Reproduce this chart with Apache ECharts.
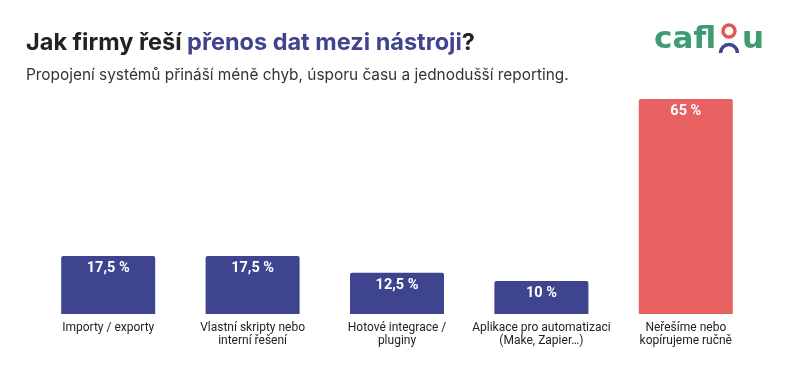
<!DOCTYPE html>
<html><head><meta charset="utf-8">
<script src="https://cdn.jsdelivr.net/npm/echarts@6/dist/echarts.min.js"></script>
<style>html,body{margin:0;padding:0;background:#fff}#c{width:800px;height:365px}</style>
</head><body><div id="c"></div>
<script>
const categories = ['Importy / exporty', 'Vlastní skripty nebo\ninterní řešení', 'Hotové integrace /\npluginy', 'Aplikace pro automatizaci\n(Make, Zapier…)', 'Neřešíme nebo\nkopírujeme ručně'];
const values = [17.5, 17.5, 12.5, 10, 65];
const barColors = ['#3f448e', '#3f448e', '#3f448e', '#3f448e', '#e86262'];

const chart = echarts.init(document.getElementById('c'), null, {renderer: 'canvas'});
chart.setOption({
  animation: false,
  title: {
    left: 21, top: 26,
    text: '{a|Jak firmy řeší }{b|přenos dat mezi nástroji}{a|?}',
    textStyle: {
      rich: {
        a: {fontFamily: 'Inter', fontSize: 23.5, fontWeight: 'bold', color: '#222222'},
        b: {fontFamily: 'Inter', fontSize: 23.5, fontWeight: 'bold', color: '#3f448e'}
      }
    },
    subtext: 'Propojení systémů přináší méně chyb, úsporu času a jednodušší reporting.',
    subtextStyle: {fontFamily: 'Inter', fontSize: 15.4, color: '#333333'},
    itemGap: 13
  },
  grid: {left: 36, right: 42, top: 99, bottom: 51},
  xAxis: {
    type: 'category', data: categories,
    axisLine: {show: false}, axisTick: {show: false},
    axisLabel: {fontFamily: 'Roboto', fontSize: 12, color: '#222', lineHeight: 13, margin: 7, interval: 0}
  },
  yAxis: {type: 'value', min: 0, max: 65, show: false, splitLine: {show: false}},
  series: [{
    type: 'bar', barWidth: 94,
    data: values.map((v, i) => ({value: v, itemStyle: {color: barColors[i]}})),
    itemStyle: {borderRadius: [2, 2, 0, 0]},
    label: {
      show: true, position: 'insideTop', distance: 5,
      fontFamily: 'Roboto', fontWeight: 'bold', fontSize: 14.5, color: '#fff',
      formatter: p => String(p.value).replace('.', ',') + ' %'
    }
  }],
  graphic: [
    {type: 'text', left: 654, top: 24, style: {text: 'cafl', fontFamily: 'DejaVu Sans', fontWeight: 'bold', fontSize: 31, fill: '#3f9b70'}},
    {type: 'circle', shape: {cx: 729, cy: 31, r: 6}, style: {fill: 'none', stroke: '#e05858', lineWidth: 3.5}},
    {type: 'arc', shape: {cx: 729, cy: 53, r: 8.5, startAngle: Math.PI, endAngle: 2 * Math.PI}, style: {fill: 'none', stroke: '#3f448e', lineWidth: 3.5}},
    {type: 'text', left: 742, top: 24, style: {text: 'u', fontFamily: 'DejaVu Sans', fontWeight: 'bold', fontSize: 31, fill: '#3f9b70'}}
  ]
});
</script></body></html>
